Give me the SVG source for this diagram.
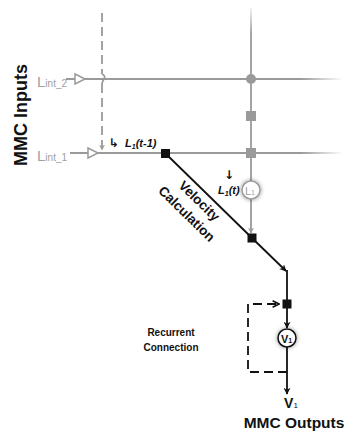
<svg xmlns="http://www.w3.org/2000/svg" width="345" height="437" viewBox="0 0 345 437">
<style>
.g{stroke:#9a9a9a;stroke-width:1.8;fill:none}
.k{stroke:#111;stroke-width:1.8;fill:none}
.dash{stroke-dasharray:9 5}
.lbl{font-family:"Liberation Sans",Arial,sans-serif;font-weight:bold}
.sym{font-family:"DejaVu Sans",sans-serif;font-weight:bold}
.glab{font-family:"Liberation Sans",Arial,sans-serif;fill:#a0a0a0}
</style>
<defs>
<linearGradient id="fade" gradientUnits="userSpaceOnUse" x1="60" y1="0" x2="343" y2="0">
<stop offset="0.85" stop-color="#9a9a9a"/>
<stop offset="1" stop-color="#9a9a9a" stop-opacity="0"/>
</linearGradient>
<linearGradient id="fadeV" gradientUnits="userSpaceOnUse" x1="0" y1="8" x2="0" y2="181">
<stop offset="0" stop-color="#9a9a9a" stop-opacity="0.15"/>
<stop offset="0.15" stop-color="#9a9a9a"/>
</linearGradient>
<marker id="ga" viewBox="0 0 10 10" refX="9" refY="5" markerWidth="6" markerHeight="6" orient="auto" markerUnits="userSpaceOnUse">
<path d="M0,0 L10,5 L0,10 L3,5 z" fill="#9a9a9a"/>
</marker>
<marker id="ka" viewBox="0 0 10 10" refX="9" refY="5" markerWidth="7" markerHeight="7" orient="auto" markerUnits="userSpaceOnUse">
<path d="M0,0 L10,5 L0,10 L3,5 z" fill="#111"/>
</marker>
<marker id="kc" viewBox="0 0 10 10" refX="9" refY="5" markerWidth="8" markerHeight="8" orient="auto" markerUnits="userSpaceOnUse">
<path d="M1,1 L9,5 L1,9" fill="none" stroke="#111" stroke-width="2"/>
</marker>
<filter id="glow" x="-50%" y="-50%" width="200%" height="200%">
<feGaussianBlur in="SourceAlpha" stdDeviation="2"/>
<feColorMatrix type="matrix" values="0 0 0 0 0  0 0 0 0 0  0 0 0 0 0  0 0 0 0.45 0"/>
<feMerge><feMergeNode/><feMergeNode in="SourceGraphic"/></feMerge>
</filter>
</defs>

<g id="connectors">
<line x1="66" y1="79" x2="343" y2="79" stroke="url(#fade)" stroke-width="1.8"/>
<line x1="70" y1="153" x2="343" y2="153" stroke="url(#fade)" stroke-width="1.8"/>
<path d="M75,74 L85,79 L75,84 z" fill="#fff" stroke="#9a9a9a" stroke-width="1.5"/>
<path d="M88,148 L98,153 L88,158 z" fill="#fff" stroke="#9a9a9a" stroke-width="1.5"/>
<path d="M102,13 V74 M102,84 V150" class="g dash" stroke="#aaa" marker-end="url(#ga)"/>
<path d="M102,74 Q106,76 104,79 Q102,82 102,84" class="g"/>
<line x1="251" y1="8" x2="251" y2="181" stroke="url(#fadeV)" stroke-width="1.8"/>
<line x1="251" y1="199" x2="251" y2="233" class="g" marker-end="url(#ga)"/>
<path d="M165,153 L252,238 L286,271" class="k" marker-end="url(#ka)"/>
<path d="M287,270 V304" class="k"/>
<line x1="287" y1="304" x2="287" y2="328" class="k" marker-end="url(#ka)"/>
<line x1="287" y1="347" x2="287" y2="394" class="k" marker-end="url(#ka)"/>
<path d="M287,372 H248 V304 H279" class="k dash" marker-end="url(#kc)"/>
</g>

<g id="input-labels">
<text class="lbl" font-size="18" transform="translate(27,115) rotate(-90)" text-anchor="middle" fill="#111">MMC Inputs</text>
<text class="glab" x="37" y="87" font-size="15">L<tspan font-size="10">int_2</tspan></text>
<text class="glab" x="37" y="161" font-size="15">L<tspan font-size="10">int_1</tspan></text>
</g>

<g id="grid-nodes">
<circle cx="251" cy="79" r="5" fill="#9a9a9a"/>
<rect x="246" y="111" width="10" height="10" fill="#9a9a9a"/>
<rect x="246" y="148" width="10" height="10" fill="#9a9a9a"/>
</g>

<g id="node-lt1">
<rect x="161" y="149" width="9" height="9" fill="#111"/>
<text class="sym" x="109" y="147" font-size="12" fill="#111">↳</text>
<text class="lbl" x="125" y="147" font-size="11" font-style="italic" fill="#111">L<tspan font-size="7" dy="2">1</tspan><tspan dy="-2">(t-1)</tspan></text>
</g>

<g id="node-L1">
<circle cx="251" cy="190" r="9" fill="#fff" stroke="#9a9a9a" stroke-width="1.5" filter="url(#glow)"/>
<text class="glab" x="250" y="194.5" font-size="11" text-anchor="middle">L<tspan font-size="7">1</tspan></text>
<text class="lbl" x="218" y="194" font-size="11" font-style="italic" fill="#111">L<tspan font-size="7" dy="2">1</tspan><tspan dy="-2">(t)</tspan></text>
<text class="sym" x="229" y="179" font-size="12" text-anchor="middle" fill="#111">↓</text>
</g>

<g id="node-vel">
<rect x="247.5" y="233.5" width="9" height="9" fill="#111"/>
<g transform="translate(206.5,193.5) rotate(44.3)">
<text class="lbl" font-size="13.5" text-anchor="middle" fill="#111" x="0" y="15">Velocity</text>
<text class="lbl" font-size="13.5" text-anchor="middle" fill="#111" x="0" y="33">Calculation</text>
</g>
</g>

<g id="node-rec">
<rect x="282.5" y="299.5" width="9" height="9" fill="#111"/>
<text class="lbl" font-size="10" text-anchor="middle" fill="#111" x="171" y="336">Recurrent</text>
<text class="lbl" font-size="10" text-anchor="middle" fill="#111" x="171" y="351">Connection</text>
</g>

<g id="node-V1">
<circle cx="287" cy="338" r="9" fill="#fff" stroke="#111" stroke-width="1.5" filter="url(#glow)"/>
<text class="lbl" x="286.5" y="342.5" font-size="11" text-anchor="middle" fill="#111">V<tspan font-size="7">1</tspan></text>
</g>

<g id="outputs">
<text class="lbl" x="291" y="408" font-size="14" text-anchor="middle" fill="#111">V<tspan font-size="8" font-weight="normal">1</tspan></text>
<text class="lbl" x="294" y="428" font-size="15.5" text-anchor="middle" fill="#111">MMC Outputs</text>
</g>
</svg>
